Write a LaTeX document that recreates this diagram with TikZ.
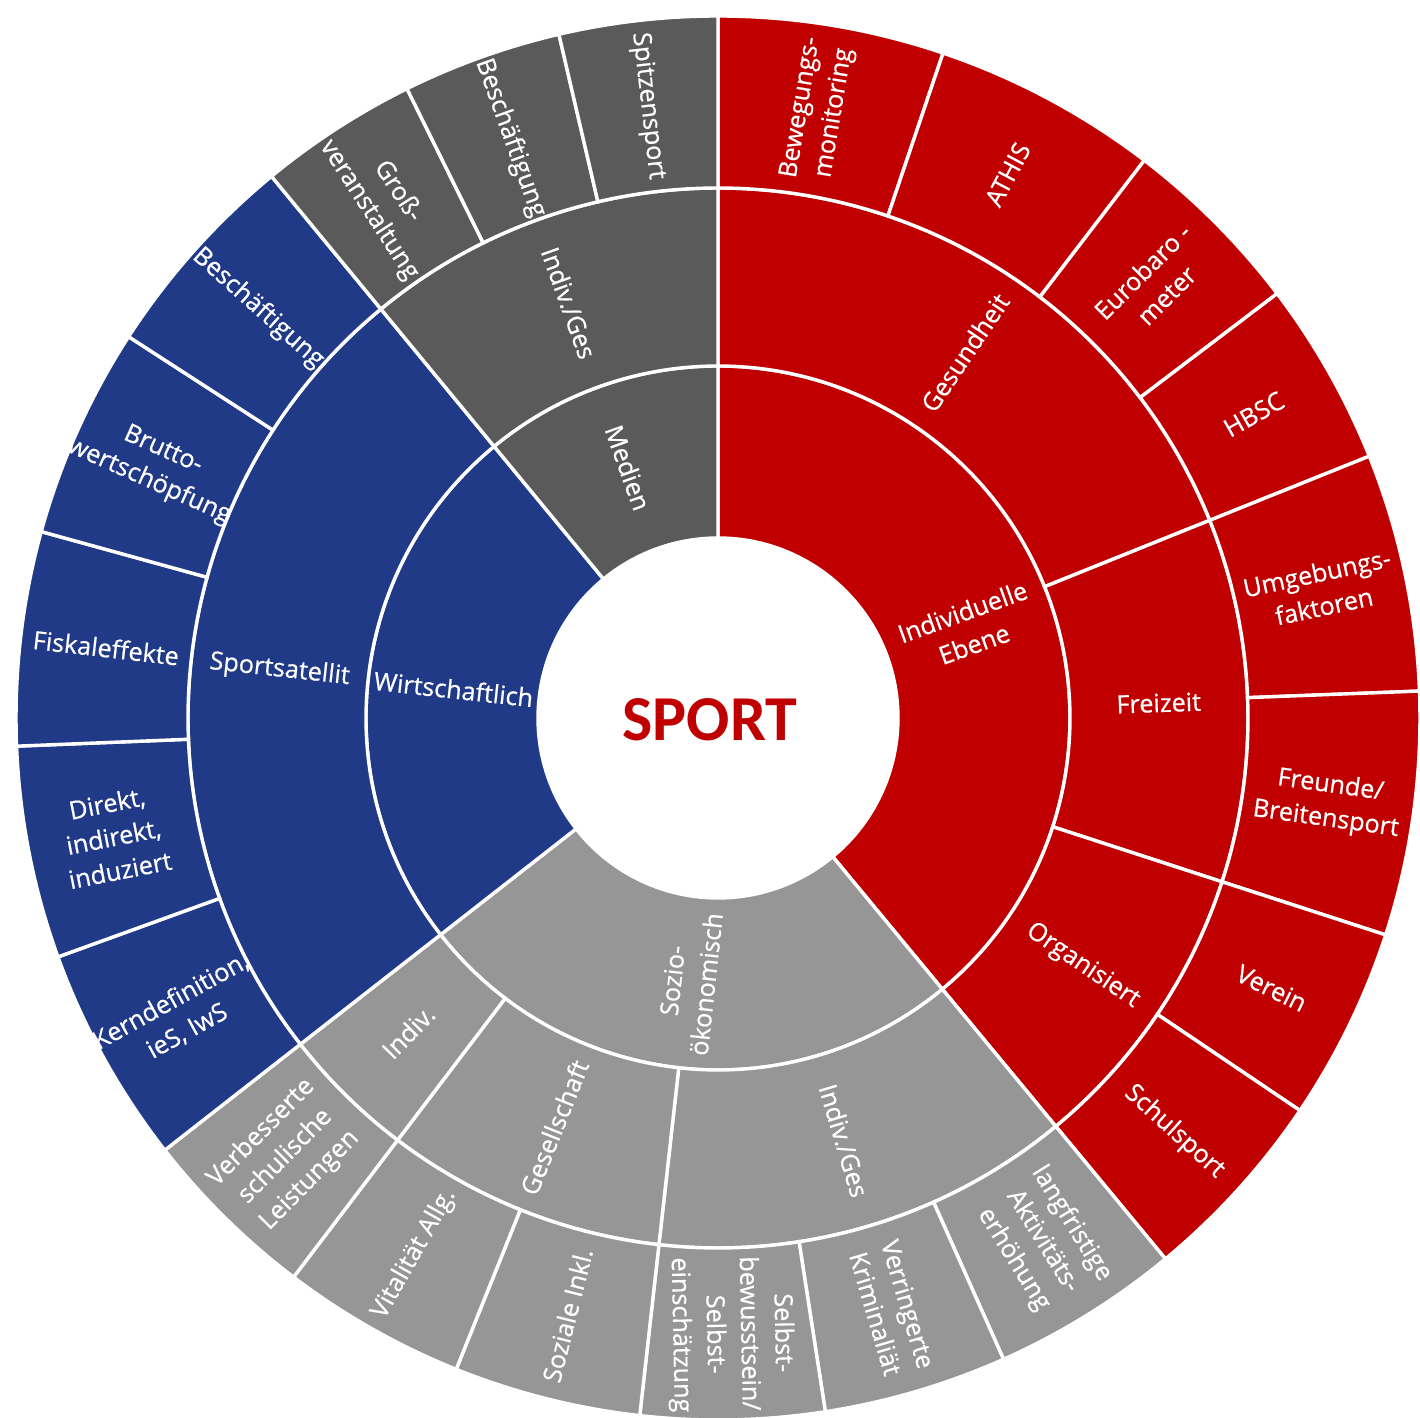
\documentclass[tikz,border=0pt]{standalone}
\usepackage{fontspec}
\setmainfont{Open Sans}
\newfontfamily\lblfont{Open Sans}[FakeBold=0.6]
\newfontfamily\calibfont{Carlito}
\definecolor{cred}{HTML}{C00000}
\definecolor{cblue}{HTML}{203A88}
\definecolor{cdgrey}{HTML}{5A5A5A}
\definecolor{clgrey}{HTML}{969696}
% #1 colour, #2 inner radius, #3 outer radius, #4 start angle, #5 end angle
\newcommand\sunseg[5]{\filldraw[#1,draw=white,line width=1.7pt] (#4:#2pt) arc[start angle=#4,end angle=#5,radius=#2pt] -- (#5:#3pt) arc[start angle=#5,end angle=#4,radius=#3pt] -- cycle;}
\tikzset{
  lbl/.style={text=white,align=center,inner sep=0pt,font=\lblfont\fontsize{12.6}{17}\selectfont},
  center/.style={text=cred,inner sep=0pt,font=\calibfont\bfseries\fontsize{32}{36}\selectfont}
}
\begin{document}
\begin{tikzpicture}
\useasboundingbox[fill=white] (-359pt,-350pt) rectangle (351pt,359pt);
\begin{scope}
\clip (-359pt,-350pt) rectangle (351pt,359pt);
% ring 1
\sunseg{cred}{90}{176}{90}{-50.4}
\sunseg{clgrey}{90}{176}{-50.4}{-142}
\sunseg{cblue}{90}{176}{218}{129.5}
\sunseg{cdgrey}{90}{176}{129.5}{90}
% ring 2
\sunseg{cred}{176}{265}{90}{21.9}
\sunseg{cred}{176}{265}{21.9}{-18}
\sunseg{cred}{176}{265}{-18}{-50.4}
\sunseg{clgrey}{176}{265}{-50.4}{-96.4}
\sunseg{clgrey}{176}{265}{-96.4}{-127.2}
\sunseg{clgrey}{176}{265}{-127.2}{-142}
\sunseg{cblue}{176}{265}{218}{129.5}
\sunseg{cdgrey}{176}{265}{129.5}{90}
% ring 3
\sunseg{cred}{265}{351}{90}{71.3}
\sunseg{cred}{265}{351}{71.3}{52.6}
\sunseg{cred}{265}{351}{52.6}{37.2}
\sunseg{cred}{265}{351}{37.2}{21.9}
\sunseg{cred}{265}{351}{21.9}{2.2}
\sunseg{cred}{265}{351}{2.2}{-18}
\sunseg{cred}{265}{351}{-18}{-34}
\sunseg{cred}{265}{351}{-34}{-50.4}
\sunseg{clgrey}{265}{351}{-50.4}{-66}
\sunseg{clgrey}{265}{351}{-66}{-81.2}
\sunseg{clgrey}{265}{351}{-81.2}{-96.4}
\sunseg{clgrey}{265}{351}{-96.4}{-111.9}
\sunseg{clgrey}{265}{351}{-111.9}{-127.2}
\sunseg{clgrey}{265}{351}{-127.2}{-142}
\sunseg{cblue}{265}{351}{218}{199.9}
\sunseg{cblue}{265}{351}{199.9}{182.3}
\sunseg{cblue}{265}{351}{182.3}{164.6}
\sunseg{cblue}{265}{351}{164.6}{147.1}
\sunseg{cblue}{265}{351}{147.1}{129.5}
\sunseg{cdgrey}{265}{351}{129.5}{116.3}
\sunseg{cdgrey}{265}{351}{116.3}{103.1}
\sunseg{cdgrey}{265}{351}{103.1}{90}
\end{scope}
% centre
\node[center] (sport) at (-4pt,-1pt) {SPORT};
% ring 1 labels
\node[lbl,rotate=19.8] (ind) at (19.8:133pt) {Individuelle\\Ebene};
\node[lbl,rotate=83.8] (soz) at (-96.2:133pt) {Sozio-\\ökonomisch};
\node[lbl,rotate=-6.25] (wirt) at (173.75:133pt) {Wirtschaftlich};
\node[lbl,rotate=-70.25] (med) at (109.75:133pt) {Medien};
% ring 2 labels
\node[lbl,rotate=56] (ges) at (55.95:220.5pt) {Gesundheit};
\node[lbl,rotate=1.95] (frei) at (1.95:220.5pt) {Freizeit};
\node[lbl,rotate=-34.2] (org) at (-34.2:220.5pt) {Organisiert};
\node[lbl,rotate=-73.4] (igA) at (-73.4:220.5pt) {Indiv./Ges};
\node[lbl,rotate=68.2] (gsch) at (-111.8:220.5pt) {Gesellschaft};
\node[lbl,rotate=45.4] (indv) at (-134.6:220.5pt) {Indiv.};
\node[lbl,rotate=-6.25] (spsat) at (173.75:220.5pt) {Sportsatellit};
\node[lbl,rotate=-70.25] (igB) at (109.75:220.5pt) {Indiv./Ges};
% ring 3 labels: red
\node[lbl,rotate=80.65] (bew) at (80.65:308pt) {Bewegungs-\\monitoring};
\node[lbl,rotate=61.95] (athis) at (61.95:308pt) {ATHIS};
\node[lbl,rotate=44.9] (euro) at (44.9:308pt) {Eurobaro -\\meter};
\node[lbl,rotate=29.55] (hbsc) at (29.55:308pt) {HBSC};
\node[lbl,rotate=12.05] (umg) at (12.05:308pt) {Umgebungs-\\faktoren};
\node[lbl,rotate=-7.9] (freu) at (-7.9:308pt) {Freunde/\\Breitensport};
\node[lbl,rotate=-26] (ver) at (-26:308pt) {Verein};
\node[lbl,rotate=-42.2] (schul) at (-42.2:308pt) {Schulsport};
% ring 3 labels: light grey
\node[lbl,rotate=-58.2] (lang) at (-58.2:308pt) {langfristige\\Aktivitäts-\\erhöhung};
\node[lbl,rotate=-73.6] (krim) at (-73.6:308pt) {Verringerte\\Kriminaliät};
\node[lbl,rotate=-88.8] (selbst) at (-88.8:308pt) {Selbst-\\bewusstsein/\\Selbst-\\einschätzung};
\node[lbl,rotate=75.85] (inkl) at (-104.15:308pt) {Soziale Inkl.};
\node[lbl,rotate=60.45] (vital) at (-119.55:308pt) {Vitalität Allg.};
\node[lbl,rotate=45.4] (verb) at (-134.6:308pt) {Verbesserte\\schulische\\Leistungen};
% ring 3 labels: blue
\node[lbl,rotate=28.95] (kern) at (208.95:308pt) {Kerndefinition,\\ieS, IwS};
\node[lbl,rotate=11.1] (dir) at (191.1:308pt) {Direkt,\\indirekt,\\induziert};
\node[lbl,rotate=-6.55] (fisk) at (173.45:308pt) {Fiskaleffekte};
\node[lbl,rotate=-24.15] (brut) at (155.85:308pt) {Brutto-\\wertschöpfung};
\node[lbl,rotate=-41.7] (beschA) at (138.3:308pt) {Beschäftigung};
% ring 3 labels: dark grey
\node[lbl,rotate=-57.1] (gross) at (122.9:308pt) {Groß-\\veranstaltung};
\node[lbl,rotate=-70.3] (beschB) at (109.7:308pt) {Beschäftigung};
\node[lbl,rotate=-83.45] (spitz) at (96.55:308pt) {Spitzensport};
\end{tikzpicture}
\end{document}
